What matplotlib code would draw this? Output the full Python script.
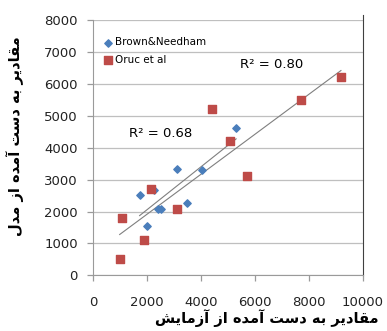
import numpy as np
import matplotlib
matplotlib.use("Agg")
import matplotlib.pyplot as plt

# Brown & Needham: measured vs. model
brown_x = [1730, 2000, 2260, 2420, 2540, 3110, 3490, 4030, 5310]
brown_y = [2515, 1560, 2670, 2090, 2090, 3330, 2255, 3300, 4620]

# Oruc et al: measured vs. model
oruc_x = [990, 1090, 1900, 2150, 3100, 4400, 5100, 5720, 7700, 9200]
oruc_y = [505, 1805, 1110, 2695, 2090, 5215, 4200, 3110, 5500, 6210]

x_ticks = [0, 2000, 4000, 6000, 8000, 10000]
y_ticks = [0, 1000, 2000, 3000, 4000, 5000, 6000, 7000, 8000]

x_title = "مقادیر به دست آمده از آزمایش"
y_title = "مقادیر به دست آمده از مدل"

# matplotlib has no Arabic shaping, so pick the contextual glyph forms by hand
# (isolated, final, initial, medial)
FORMS = {
    "ا": ("\uFE8D", "\uFE8E", None, None),
    "آ": ("\uFE81", "\uFE82", None, None),
    "د": ("\uFEA9", "\uFEAA", None, None),
    "ر": ("\uFEAD", "\uFEAE", None, None),
    "ز": ("\uFEAF", "\uFEB0", None, None),
    "ب": ("\uFE8F", "\uFE90", "\uFE91", "\uFE92"),
    "ت": ("\uFE95", "\uFE96", "\uFE97", "\uFE98"),
    "س": ("\uFEB1", "\uFEB2", "\uFEB3", "\uFEB4"),
    "ش": ("\uFEB5", "\uFEB6", "\uFEB7", "\uFEB8"),
    "ق": ("\uFED5", "\uFED6", "\uFED7", "\uFED8"),
    "ل": ("\uFEDD", "\uFEDE", "\uFEDF", "\uFEE0"),
    "م": ("\uFEE1", "\uFEE2", "\uFEE3", "\uFEE4"),
    "ه": ("\uFEE9", "\uFEEA", "\uFEEB", "\uFEEC"),
    "ی": ("\uFBFC", "\uFBFD", "\uFBFE", "\uFBFF"),
}


def shape(text):
    out = []
    for i, ch in enumerate(text):
        if ch not in FORMS:
            out.append(ch)
            continue
        prev = text[i - 1] if i > 0 else ""
        nxt = text[i + 1] if i + 1 < len(text) else ""
        iso, fin, ini, med = FORMS[ch]
        join_prev = prev in FORMS and FORMS[prev][2] is not None
        join_next = ini is not None and nxt in FORMS
        if join_prev and join_next:
            out.append(med)
        elif join_prev:
            out.append(fin)
        elif join_next:
            out.append(ini)
        else:
            out.append(iso)
    return "".join(reversed(out))


def trend(x, y):
    slope, icpt = np.polyfit(x, y, 1)
    xs = np.array([min(x), max(x)])
    return xs, slope * xs + icpt


plt.rcParams["font.family"] = ["DejaVu Sans"]

fig = plt.figure(figsize=(3.87, 3.31), dpi=100)
ax = fig.add_axes([0.2403, 0.1677, 0.6964, 0.7733])

grid_c = "#bfbfbf"
ax.set_yticks(y_ticks)
ax.set_xticks(x_ticks)
ax.set_xlim(0, 10000)
ax.set_ylim(0, 8000)
ax.yaxis.grid(True, color=grid_c, linewidth=0.9)
ax.set_axisbelow(True)

ax.spines["top"].set_visible(False)
ax.spines["left"].set_color("#9a9a9a")
ax.spines["bottom"].set_color("#9a9a9a")
ax.spines["right"].set_color("#404040")
ax.spines["right"].set_bounds(0, 8150)
ax.tick_params(axis="both", colors="#9a9a9a", length=4, width=0.9, labelsize=9.5,
               labelcolor="#222222")
ax.tick_params(axis="y", pad=7)
ax.tick_params(axis="x", pad=11)

bx, by = trend(brown_x, brown_y)
ox, oy = trend(oruc_x, oruc_y)
ax.plot(bx, by, color="#7f7f7f", linewidth=0.8, zorder=2)
ax.plot(ox, oy, color="#7f7f7f", linewidth=0.8, zorder=2)

ax.scatter(brown_x, brown_y, marker="D", s=14, color="#4a7ebb", zorder=3,
           label="Brown&Needham")
ax.scatter(oruc_x, oruc_y, marker="s", s=30, color="#be4b48", zorder=3,
           label="Oruc et al")

ax.text(1330, 4450, "R² = 0.68", fontsize=9.5, ha="left", va="center")
ax.text(5440, 6610, "R² = 0.80", fontsize=9.5, ha="left", va="center")

ax.legend(loc="upper left", bbox_to_anchor=(0.01, 0.955), frameon=False,
          fontsize=7.5, handletextpad=0.1, borderaxespad=0.2,
          labelspacing=0.75, handlelength=1.2)

fig.text(0.69, 0.012, shape(x_title), fontsize=10.5, fontweight="bold",
         ha="center", va="bottom")
fig.text(0.04, 0.59, shape(y_title), fontsize=10.5, fontweight="bold",
         ha="center", va="center", rotation=90)

fig.savefig("out.png", dpi=100)
